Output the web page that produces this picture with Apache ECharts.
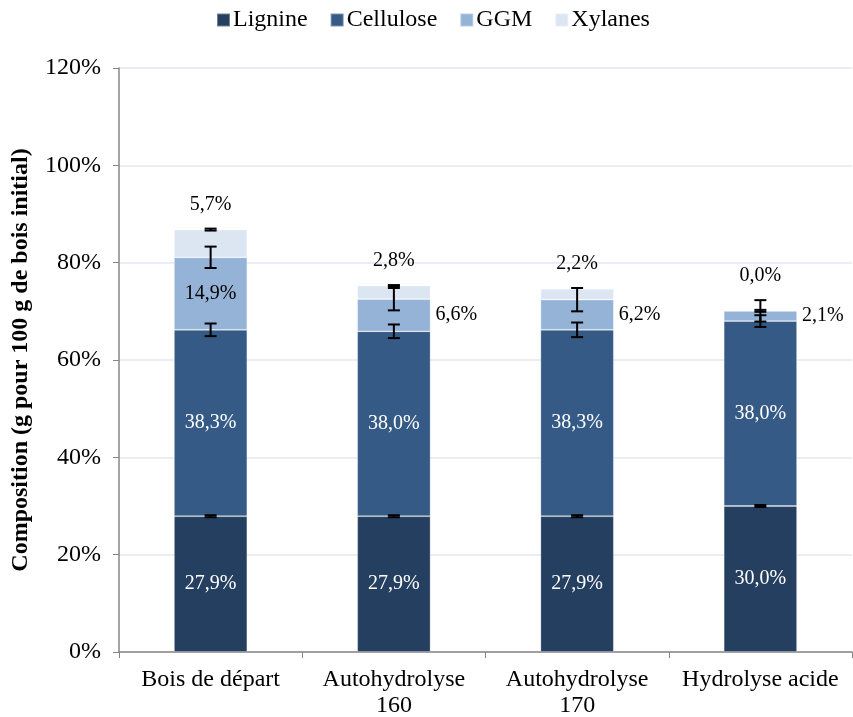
<!DOCTYPE html>
<html>
<head>
<meta charset="utf-8">
<script src="https://cdn.jsdelivr.net/npm/echarts@6/dist/echarts.min.js"></script>
<style>html,body{margin:0;padding:0;background:#fff}#c{width:853px;height:717px}</style>
</head>
<body>
<div id="c"></div>
<script>
const categories = ['Bois de départ', 'Autohydrolyse\n160', 'Autohydrolyse\n170', 'Hydrolyse acide'];
const lignine = [27.9, 27.9, 27.9, 30.0];
const cellulose = [38.3, 38.0, 38.3, 38.0];
const ggm = [14.9, 6.6, 6.2, 2.1];
const xylanes = [5.7, 2.8, 2.2, 0.0];
const errLignine = [0.2, 0.2, 0.2, 0.2];
const errCellulose = [1.3, 1.4, 1.5, 1.2];
const errGgm = [2.2, 2.3, 2.4, 2.2];
const errXylanes = [0.2, 0.1, 0.0, 0.2];
const yTicks = [0, 20, 40, 60, 80, 100, 120];

const FONT = '"Liberation Serif", "Times New Roman", serif';
const fmt = v => v.toFixed(1).replace('.', ',') + '%';

const top1 = lignine.slice();
const top2 = lignine.map((v, i) => v + cellulose[i]);
const top3 = top2.map((v, i) => v + ggm[i]);
const top4 = top3.map((v, i) => v + xylanes[i]);

const errData = [];
[[top1, errLignine], [top2, errCellulose], [top3, errGgm], [top4, errXylanes]].forEach(([tops, errs]) => {
  tops.forEach((t, i) => { if (errs[i] > 0) errData.push([i, t, errs[i]]); });
});
const labelData = categories.map((c, i) => [i, Math.max(top4[i] + errXylanes[i], top3[i] + errGgm[i]), xylanes[i]]);

const chart = echarts.init(document.getElementById('c'));
const baseLabel = { show: true, fontFamily: FONT, fontSize: 20, formatter: p => fmt(p.value) };
chart.setOption({
  animation: false,
  textStyle: { fontFamily: FONT },
  legend: {
    top: 3, left: 211, itemWidth: 13, itemHeight: 13, itemGap: 22,
    icon: 'rect',
    textStyle: { fontFamily: FONT, fontSize: 24, color: '#000', padding: [0, 0, 0, -2] },
    data: ['Lignine', 'Cellulose', 'GGM', 'Xylanes']
  },
  grid: { left: 119, right: 1, top: 68, bottom: 65, containLabel: false, outerBoundsMode: 'none' },
  xAxis: {
    type: 'category', data: categories,
    axisLine: { lineStyle: { color: '#868686', width: 1.5 } },
    axisTick: { show: true, length: 6, lineStyle: { color: '#868686' } },
    axisLabel: { fontFamily: FONT, fontSize: 24, color: '#000', margin: 15, lineHeight: 26, interval: 0 }
  },
  yAxis: {
    type: 'value', min: 0, max: 120, interval: 20,
    name: 'Composition (g pour 100 g de bois initial)',
    nameLocation: 'middle', nameGap: 86,
    nameTextStyle: { fontFamily: FONT, fontSize: 24, fontWeight: 'bold', color: '#000' },
    axisLine: { show: true, lineStyle: { color: '#868686', width: 1.5 } },
    axisTick: { show: true, length: 6, lineStyle: { color: '#868686' } },
    axisLabel: { fontFamily: FONT, fontSize: 24, color: '#000', margin: 18, formatter: v => yTicks.includes(v) ? v + '%' : '' },
    splitLine: { lineStyle: { color: '#e3e9f1', width: 1.5 } }
  },
  series: [
    { name: 'Lignine', type: 'bar', stack: 's', barWidth: '40%', data: lignine,
      itemStyle: { color: '#243f60', borderColor: 'rgba(255,255,255,0.35)', borderWidth: 0.8 },
      label: Object.assign({}, baseLabel, { position: 'inside', color: '#fff' }) },
    { name: 'Cellulose', type: 'bar', stack: 's', data: cellulose,
      itemStyle: { color: '#355a86', borderColor: 'rgba(255,255,255,0.35)', borderWidth: 0.8 },
      label: Object.assign({}, baseLabel, { position: 'inside', color: '#fff' }) },
    { name: 'GGM', type: 'bar', stack: 's',
      data: ggm.map((v, i) => i === 0 ? { value: v, label: { position: 'inside' } } : v),
      itemStyle: { color: '#95b3d7', borderColor: 'rgba(255,255,255,0.35)', borderWidth: 0.8 },
      label: Object.assign({}, baseLabel, { position: 'right', distance: 5, color: '#000' }) },
    { name: 'Xylanes', type: 'bar', stack: 's', data: xylanes,
      itemStyle: { color: '#dce6f2', borderColor: 'rgba(255,255,255,0.35)', borderWidth: 0.8 } },
    { type: 'custom', z: 10, data: errData, silent: true,
      renderItem: (params, api) => {
        const i = api.value(0), t = api.value(1), e = api.value(2);
        const a = api.coord([i, t + e]), b = api.coord([i, t - e]);
        const w = 6, st = { stroke: '#000', lineWidth: 2 };
        return { type: 'group', children: [
          { type: 'line', shape: { x1: a[0], y1: a[1], x2: b[0], y2: b[1] }, style: st },
          { type: 'line', shape: { x1: a[0] - w, y1: a[1], x2: a[0] + w, y2: a[1] }, style: st },
          { type: 'line', shape: { x1: b[0] - w, y1: b[1], x2: b[0] + w, y2: b[1] }, style: st }
        ] };
      } },
    { type: 'custom', z: 10, data: labelData, silent: true,
      renderItem: (params, api) => {
        const p = api.coord([api.value(0), api.value(1)]);
        return { type: 'text', x: p[0], y: p[1] - 24,
          style: { text: fmt(api.value(2)), fontFamily: FONT, fontSize: 20, fill: '#000', align: 'center', verticalAlign: 'middle' } };
      } }
  ]
});
</script>
</body>
</html>
